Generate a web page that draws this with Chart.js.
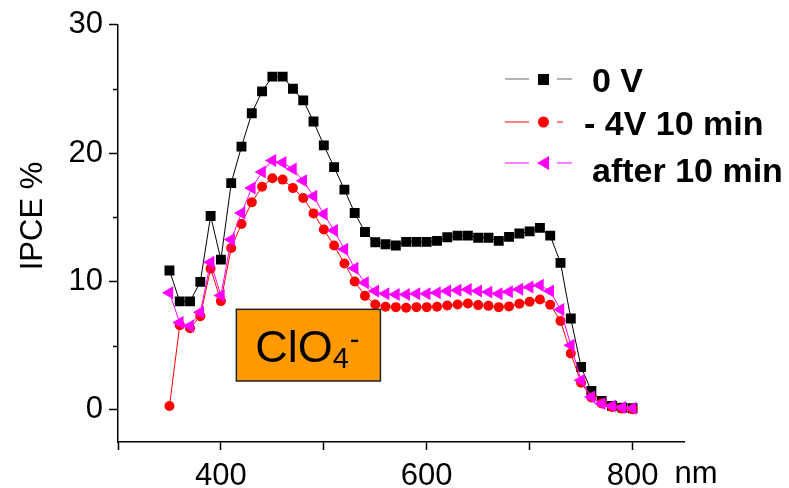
<!DOCTYPE html>
<html>
<head>
<meta charset="utf-8">
<script src="https://cdn.jsdelivr.net/npm/chart.js@4/dist/chart.umd.min.js"></script>
<style>
  html, body { margin: 0; padding: 0; background: #fff; }
  #wrap { width: 789px; height: 488px; }
</style>
</head>
<body>
<div id="wrap"><canvas id="c" width="789" height="488"></canvas></div>
<script>
// wavelength (nm)
const wavelengths = [350, 360, 370, 380, 390, 400, 410, 420, 430, 440, 450, 460, 470, 480, 490,
    500, 510, 520, 530, 540, 550, 560, 570, 580, 590, 600, 610, 620, 630, 640, 650, 660, 670, 680,
    690, 700, 710, 720, 730, 740, 750, 760, 770, 780, 790, 800];

// IPCE %
const ipce0V = [10.85, 8.45, 8.45, 9.97, 15.1, 11.7, 17.66, 20.5, 23.1, 24.8, 25.95, 25.95, 25.0, 24.1, 22.45,
    20.6, 18.9, 17.15, 15.33, 13.85, 13.05, 12.9, 12.8, 13.08, 13.08, 13.08, 13.16, 13.44, 13.57, 13.57,
    13.4, 13.4, 13.16, 13.47, 13.73, 13.9, 14.17, 13.57, 11.45, 7.12, 3.34, 1.48, 0.7, 0.31, 0.18, 0.13];
const ipceMinus4V = [0.3, 6.6, 6.35, 7.3, 11.0, 8.47, 12.6, 14.48, 16.16, 17.38, 18.03, 17.93, 17.27, 16.5, 15.3,
    14.04, 12.8, 11.4, 10.0, 8.88, 8.2, 8.03, 8.0, 7.95, 8.0, 8.0, 8.03, 8.13, 8.2, 8.28,
    8.16, 8.1, 8.0, 8.06, 8.26, 8.42, 8.6, 8.18, 6.93, 4.4, 2.12, 0.96, 0.5, 0.23, 0.1, 0.05];
const ipceAfter = [9.12, 6.8, 6.53, 7.6, 11.5, 8.9, 13.26, 15.33, 17.27, 18.52, 19.42, 19.27, 18.75, 17.85, 16.63,
    15.25, 13.96, 12.5, 11.03, 9.9, 9.25, 9.04, 8.99, 8.99, 9.04, 9.04, 9.12, 9.25, 9.32, 9.38,
    9.25, 9.17, 9.04, 9.19, 9.4, 9.56, 9.71, 9.25, 7.82, 5.03, 2.3, 1.0, 0.5, 0.31, 0.18, 0.13];

const seriesNames = ['0 V', '- 4V 10 min', 'after 10 min'];
const xLabels = [400, 600, 800];
const yLabels = [0, 10, 20, 30];
const yMinor = [5, 15, 25];

const FONT = '"Liberation Sans", Arial, Helvetica, sans-serif';

function pts(ys) {
    return wavelengths.map((x, i) => ({ x: x, y: ys[i] }));
}

// legend, extra labels, minor ticks and the ClO4- box
const extras = {
    id: 'extras',
    afterDraw(chart) {
        const ctx = chart.ctx;
        const xs = chart.scales.x, ys = chart.scales.y;
        ctx.save();

        // minor y ticks
        ctx.strokeStyle = '#000';
        ctx.lineWidth = 1.5;
        yMinor.forEach(v => {
            const py = Math.round(ys.getPixelForValue(v)) + 0.5;
            ctx.beginPath();
            ctx.moveTo(xs.left - 5, py);
            ctx.lineTo(xs.left, py);
            ctx.stroke();
        });

        // "nm" next to the 800 label
        ctx.fillStyle = '#000';
        ctx.font = '31px ' + FONT;
        ctx.textBaseline = 'alphabetic';
        ctx.textAlign = 'left';
        ctx.fillText('nm', xs.getPixelForValue(800) + 42, 483);

        // y title
        ctx.save();
        ctx.translate(42, 216);
        ctx.rotate(-Math.PI / 2);
        ctx.textAlign = 'center';
        ctx.fillText('IPCE %', 0, 0);
        ctx.restore();

        // ClO4- box
        const bx0 = xs.getPixelForValue(415), bx1 = xs.getPixelForValue(555);
        const by0 = ys.getPixelForValue(7.83), by1 = ys.getPixelForValue(2.25);
        ctx.fillStyle = '#ff9900';
        ctx.fillRect(bx0, by0, bx1 - bx0, by1 - by0);
        ctx.strokeStyle = '#222';
        ctx.lineWidth = 1.5;
        ctx.strokeRect(bx0, by0, bx1 - bx0, by1 - by0);
        ctx.fillStyle = '#000';
        ctx.font = '45px ' + FONT;
        ctx.fillText('ClO', bx0 + 19, 362);
        const w = ctx.measureText('ClO').width;
        ctx.font = '29px ' + FONT;
        ctx.fillText('4', bx0 + 19 + w, 368);
        ctx.fillText('-', bx0 + 19 + w + 17, 349);

        // legend
        const rows = [
            { y: 79, base: 92, tx: 592, color: '#000', line: '#666', style: 'rect', end: 572 },
            { y: 122, base: 135, tx: 584, color: '#ff0000', line: '#ff0000', style: 'circle', end: 563 },
            { y: 163, base: 182, tx: 592, color: '#ff00ff', line: '#ff00ff', style: 'tri', end: 572 }
        ];
        rows.forEach((r, i) => {
            ctx.strokeStyle = r.line;
            ctx.lineWidth = 1.2;
            ctx.beginPath();
            ctx.moveTo(505, r.y); ctx.lineTo(529, r.y);
            ctx.moveTo(557, r.y); ctx.lineTo(r.end, r.y);
            ctx.stroke();
            ctx.fillStyle = r.color;
            ctx.beginPath();
            if (r.style === 'rect') {
                ctx.rect(538, r.y - 5, 11, 11);
            } else if (r.style === 'circle') {
                ctx.arc(543.5, r.y, 5.5, 0, Math.PI * 2);
            } else {
                ctx.moveTo(537, r.y);
                ctx.lineTo(549, r.y - 7);
                ctx.lineTo(549, r.y + 7);
                ctx.closePath();
            }
            ctx.fill();
            ctx.fillStyle = '#000';
            ctx.font = 'bold 34px ' + FONT;
            ctx.fillText(seriesNames[i], r.tx, r.base);
        });
        ctx.restore();
    }
};

new Chart(document.getElementById('c'), {
    type: 'line',
    data: {
        datasets: [
            {
                label: seriesNames[0],
                data: pts(ipce0V),
                borderColor: '#000',
                backgroundColor: '#000',
                borderWidth: 1,
                pointStyle: 'rect',
                pointRadius: 7,
                pointBorderWidth: 0,
                order: 3
            },
            {
                label: seriesNames[1],
                data: pts(ipceMinus4V),
                borderColor: '#ff0000',
                backgroundColor: '#ff0000',
                borderWidth: 1,
                pointStyle: 'circle',
                pointRadius: 5,
                pointBorderWidth: 0,
                order: 2
            },
            {
                label: seriesNames[2],
                data: pts(ipceAfter),
                borderColor: '#ff00ff',
                backgroundColor: '#ff00ff',
                borderWidth: 1,
                pointStyle: 'triangle',
                pointRotation: -90,
                pointRadius: 7.5,
                pointBorderWidth: 0,
                order: 1
            }
        ]
    },
    options: {
        responsive: false,
        animation: false,
        layout: { padding: { left: 0, top: 23, right: 105, bottom: 0 } },
        plugins: {
            legend: { display: false },
            tooltip: { enabled: false }
        },
        scales: {
            x: {
                type: 'linear',
                min: 300,
                max: 850,
                afterBuildTicks: s => { s.ticks = [300, 400, 500, 600, 700, 800].map(v => ({ value: v })); },
                afterFit: s => { s.height = 46; },
                border: { display: true, color: '#000', width: 1.5 },
                grid: { display: true, drawOnChartArea: false, drawTicks: true, tickLength: 8, tickColor: '#000', tickWidth: 1.5 },
                ticks: {
                    color: '#000',
                    font: { family: FONT, size: 31 },
                    padding: 8,
                    maxRotation: 0,
                    autoSkip: false,
                    callback: v => xLabels.includes(v) ? String(v) : ''
                }
            },
            y: {
                min: -2.5,
                max: 30,
                afterBuildTicks: s => { s.ticks = yLabels.map(v => ({ value: v })); },
                afterFit: s => { s.width = 118; },
                border: { display: true, color: '#000', width: 1.5 },
                grid: { display: true, drawOnChartArea: false, drawTicks: true, tickLength: 9, tickColor: '#000', tickWidth: 1.5 },
                ticks: {
                    color: '#000',
                    font: { family: FONT, size: 31 },
                    padding: 6,
                    callback: v => String(v)
                }
            }
        }
    },
    plugins: [extras]
});
</script>
</body>
</html>
